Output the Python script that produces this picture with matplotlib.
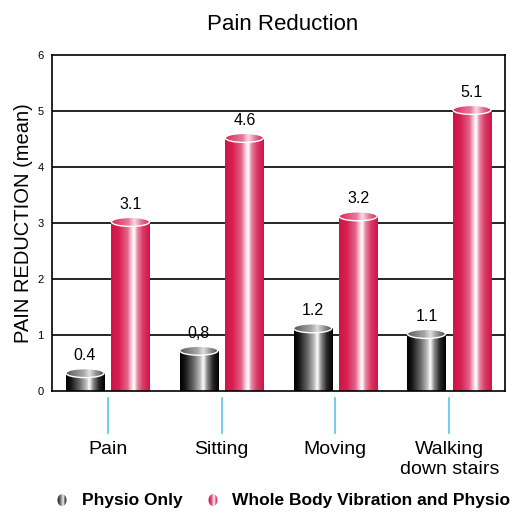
import numpy as np
import matplotlib
matplotlib.use("Agg")
import matplotlib.pyplot as plt
from matplotlib.colors import LinearSegmentedColormap
from matplotlib.patches import Rectangle, Ellipse
import matplotlib.transforms as mtransforms

plt.rcParams['font.family'] = ['Liberation Sans', 'DejaVu Sans']

categories = ["Pain", "Sitting", "Moving", "Walking\ndown stairs"]
physio_only = [0.4, 0.8, 1.2, 1.1]
wbv_physio = [3.1, 4.6, 3.2, 5.1]
physio_labels = ["0.4", "0,8", "1.2", "1.1"]
wbv_labels = ["3.1", "4.6", "3.2", "5.1"]
series_names = ["Physio Only", "Whole Body Vibration and Physio"]

# Shading ramps across each cylinder (left edge -> right edge)
dark_body = LinearSegmentedColormap.from_list("dark_body", [
    (0.00, "#000000"), (0.12, "#141414"), (0.35, "#6a6a6a"), (0.52, "#bdbdbd"),
    (0.60, "#ffffff"), (0.70, "#8a8a8a"), (0.85, "#252525"), (1.00, "#000000")])
dark_face = LinearSegmentedColormap.from_list("dark_face", [
    (0.0, "#5a5a5a"), (0.45, "#a8a8a8"), (0.6, "#e0e0e0"), (0.8, "#8a8a8a"), (1.0, "#4a4a4a")])
red_body = LinearSegmentedColormap.from_list("red_body", [
    (0.00, "#d2124a"), (0.20, "#d6204f"), (0.42, "#e4628a"), (0.55, "#fbe3ea"),
    (0.60, "#ffffff"), (0.68, "#ea87a4"), (0.82, "#d93a64"), (1.00, "#d2124a")])
red_face = LinearSegmentedColormap.from_list("red_face", [
    (0.0, "#d62a5a"), (0.45, "#e87a9a"), (0.6, "#f9dbe4"), (0.8, "#e26a8e"), (1.0, "#d62a5a")])

fig = plt.figure(figsize=(5.19, 5.14), dpi=100)
ax = fig.add_axes([0.1002, 0.2393, 0.8728, 0.6537])

x = np.arange(len(categories))
bar_w = 0.335
offset = 0.2
ax.set_xlim(-0.49, 3.49)
ax.set_ylim(0, 6)

# Gridlines
for g in range(1, 6):
    ax.axhline(g, color="black", lw=1.2, zorder=1)

grad = np.linspace(0, 1, 256).reshape(1, -1)
# ellipse height in data units (about 9 px tall)
ell_h = 9.0 / (0.6537 * 514) * 6


def cylinder(xc, value, body_cmap, face_cmap):
    x0, x1 = xc - bar_w / 2, xc + bar_w / 2
    yc = value - ell_h / 2
    rect = Rectangle((x0, 0), bar_w, yc, transform=ax.transData)
    im = ax.imshow(grad, cmap=body_cmap, extent=[x0, x1, 0, yc],
                   aspect="auto", interpolation="bilinear", zorder=3)
    im.set_clip_path(rect)
    ell = Ellipse((xc, yc), bar_w, ell_h, transform=ax.transData)
    im2 = ax.imshow(grad, cmap=face_cmap, extent=[x0, x1, yc - ell_h / 2, yc + ell_h / 2],
                    aspect="auto", interpolation="bilinear", zorder=4)
    im2.set_clip_path(ell)
    ax.add_patch(Ellipse((xc, yc), bar_w, ell_h, facecolor="none",
                         edgecolor="white", lw=1.0, zorder=5))


for i in range(len(categories)):
    cylinder(x[i] - offset, physio_only[i], dark_body, dark_face)
    cylinder(x[i] + offset, wbv_physio[i], red_body, red_face)
    ax.annotate(physio_labels[i], (x[i] - offset, physio_only[i]),
                xytext=(0, 6), textcoords="offset points",
                ha="center", va="baseline", fontsize=11.5, zorder=6)
    ax.annotate(wbv_labels[i], (x[i] + offset, wbv_physio[i]),
                xytext=(0, 6), textcoords="offset points",
                ha="center", va="baseline", fontsize=11.5, zorder=6)

for s in ax.spines.values():
    s.set_color("black")
    s.set_linewidth(1.2)
    s.set_zorder(7)

ax.set_yticks(range(0, 7))
ax.set_yticklabels([str(v) for v in range(0, 7)], fontsize=8)
ax.tick_params(axis="y", length=0, pad=6)
ax.set_xticks([])
ax.set_ylabel("PAIN REDUCTION (mean)", fontsize=14.5, labelpad=3)

# Category markers and labels below the axis
trans = mtransforms.blended_transform_factory(ax.transData, ax.transAxes)
for i, name in enumerate(categories):
    ax.plot([x[i], x[i]], [-0.021, -0.125], color="#58c4ee", lw=1.2,
            transform=trans, clip_on=False)
    ax.text(x[i], -0.149, name, transform=trans, ha="center", va="top",
            fontsize=14, linespacing=1.2)

fig.text(0.544, 0.953, "Pain Reduction", ha="center", va="center", fontsize=16)

# Legend row
legend_y = 0.027
icon_specs = [(62, dark_body, series_names[0], 82), (213, red_body, series_names[1], 232)]
for px, cmap, label, tx in icon_specs:
    cx = px / 519
    iax = fig.add_axes([cx - 6 / 519, legend_y - 6 / 514, 12 / 519, 12 / 514])
    iax.set_axis_off()
    iax.set_xlim(-1, 1)
    iax.set_ylim(-1, 1)
    im = iax.imshow(grad, cmap=cmap, extent=[-1, 1, -1, 1], aspect="auto",
                    interpolation="bilinear")
    circ = Ellipse((0, 0), 1.5, 2.0, transform=iax.transData)
    im.set_clip_path(circ)
    fig.text(tx / 519, legend_y, label, ha="left", va="center",
             fontsize=12.5, fontweight="bold")

fig.savefig("out.png", dpi=100)
